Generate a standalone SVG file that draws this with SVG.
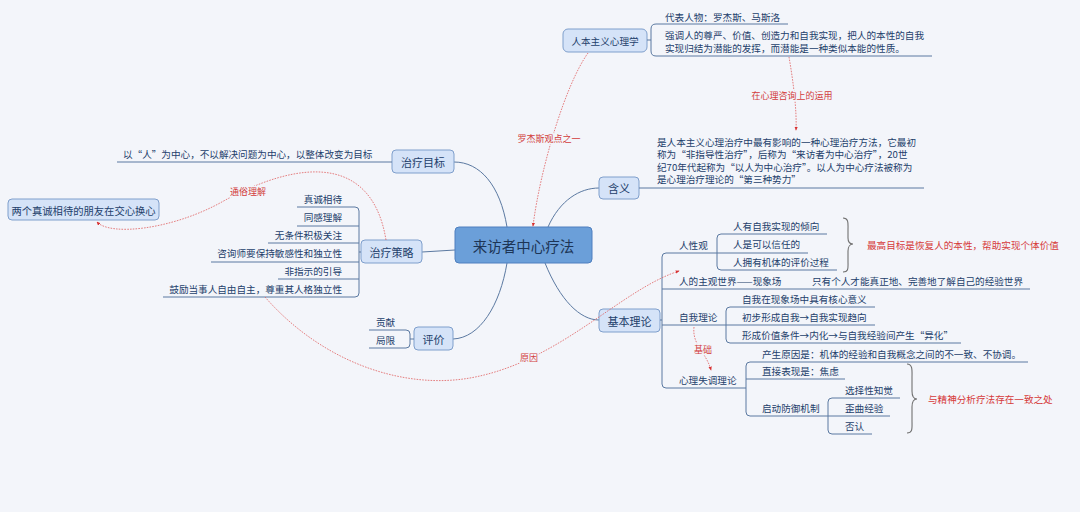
<svg xmlns="http://www.w3.org/2000/svg" width="1080" height="512" viewBox="0 0 1080 512">
<defs>
<style>
text{font-family:"Noto Sans CJK SC","Noto Sans",sans-serif;fill:#23406b;dominant-baseline:central}
.t{font-size:9.6px}
.m{font-size:11px;text-anchor:middle}
.node{fill:#d5e3f8;stroke:#7f9fcc;stroke-width:1}
.ln{fill:none;stroke:#5b79a1;stroke-width:1}
.br{fill:none;stroke:#707070;stroke-width:1.1}
.rel{fill:none;stroke:#e06060;stroke-width:0.8;stroke-dasharray:1.6 1.2}
.rl{font-size:9px;fill:#d23c3c;text-anchor:middle;stroke:#f3f5fa;stroke-width:3;paint-order:stroke}
.red{font-size:9.6px;fill:#d63a3a}
</style>
<marker id="ah" viewBox="0 0 6 6" refX="5" refY="3" markerWidth="5" markerHeight="5" orient="auto">
<path d="M0,0.5 L6,3 L0,5.5 Z" fill="#d83030"/>
</marker>
</defs>
<rect width="1080" height="512" fill="#f3f5fa"/>

<g id="connectors">
<path class="ln" d="M507,227 C500,185 480,162 454,162"/>
<path class="ln" d="M548,227 C560,200 580,188 599,188"/>
<path class="ln" d="M455,250 L422,252"/>
<path class="ln" d="M507,263 C500,305 480,338 453,339"/>
<path class="ln" d="M545,263 C560,300 580,320 599,320"/>
</g>

<g id="center">
<rect x="455" y="227" width="137" height="36" rx="4" fill="#6b9fd9" stroke="#4f7fbf"/>
<text x="523.5" y="245" style="font-size:14.5px;text-anchor:middle;fill:#1d3556">来访者中心疗法</text>
</g>

<g id="renben">
<rect class="node" x="563" y="29" width="84" height="23" rx="5"/>
<text x="605" y="40.5" style="font-size:9.6px;text-anchor:middle">人本主义心理学</text>
<path class="ln" d="M647,40 L651,40 M788,24 L656,24 Q651,24 651,29 L651,51 Q651,56 656,56 L932,56"/>
<text class="t" x="665" y="17">代表人物：罗杰斯、马斯洛</text>
<text class="t" x="665" y="35">强调人的尊严、价值、创造力和自我实现，把人的本性的自我</text>
<text class="t" x="665" y="48">实现归结为潜能的发挥，而潜能是一种类似本能的性质。</text>
</g>

<g id="hanyi">
<rect class="node" x="599" y="177" width="40" height="22" rx="4"/>
<text class="m" x="619" y="188">含义</text>
<path class="ln" d="M639,188 L924,188"/>
<text class="t" x="657" y="142">是人本主义心理治疗中最有影响的一种心理治疗方法，它最初</text>
<text class="t" x="657" y="154">称为“非指导性治疗”，后称为“来访者为中心治疗”，20世</text>
<text class="t" x="657" y="167">纪70年代起称为“以人为中心治疗”。以人为中心疗法被称为</text>
<text class="t" x="657" y="179">是心理治疗理论的“第三种势力”</text>
</g>

<g id="mubiao">
<rect class="node" x="392" y="150" width="62" height="23" rx="4"/>
<text class="m" x="423" y="161.5">治疗目标</text>
<path class="ln" d="M392,162 L117,162"/>
<text class="t" x="123" y="154">以“人”为中心，不以解决问题为中心，以整体改变为目标</text>
</g>

<g id="celue">
<rect class="node" x="361" y="240" width="61" height="23" rx="4"/>
<text class="m" x="391.5" y="251.5">治疗策略</text>
<path class="ln" d="M297,207 L355,207 Q359,207 359,211 L359,293 Q359,297 355,297 L163,297 M297,226 L359,226 M268,243 L359,243 M211,262 L359,262 M278,279 L359,279 M359,252 L361,252"/>
<g style="text-anchor:end">
<text class="t" x="342" y="199">真诚相待</text>
<text class="t" x="342" y="217">同感理解</text>
<text class="t" x="342" y="235">无条件积极关注</text>
<text class="t" x="342" y="253">咨询师要保持敏感性和独立性</text>
<text class="t" x="342" y="271">非指示的引导</text>
<text class="t" x="342" y="289">鼓励当事人自由自主，尊重其人格独立性</text>
</g>
</g>

<g id="friends">
<rect class="node" x="8" y="199" width="151" height="21" rx="4"/>
<text x="83.5" y="210" style="font-size:10.3px;text-anchor:middle">两个真诚相待的朋友在交心换心</text>
</g>

<g id="pingjia">
<rect class="node" x="414" y="327" width="39" height="23" rx="4"/>
<text class="m" x="433.5" y="338.5">评价</text>
<path class="ln" d="M369,330 L406,330 Q410,330 410,334 L410,344 Q410,348 406,348 L369,348 M410,339 L414,339"/>
<text class="t" x="376" y="322">贡献</text>
<text class="t" x="376" y="340">局限</text>
</g>

<g id="jiben">
<rect class="node" x="599" y="309" width="61" height="23" rx="4"/>
<text class="m" x="629.5" y="320.5">基本理论</text>
<path class="ln" d="M660,320 L662,320 M717,253 L666,253 Q662,253 662,257 L662,384 Q662,388 666,388 L746,388 M662,289 L1030,289 M662,325 L875,325"/>
<text class="t" x="679" y="245">人性观</text>
<path class="ln" d="M827,234 L721,234 Q717,234 717,238 L717,266 Q717,270 721,270 L837,270 M717,253 L808,253"/>
<text class="t" x="733" y="226">人有自我实现的倾向</text>
<text class="t" x="733" y="244">人是可以信任的</text>
<text class="t" x="733" y="262">人拥有机体的评价过程</text>
<path class="br" d="M843,218 C849,218 848,224 848,230 L848,238 C848,242 850,244 853,244 C850,244 848,247 848,251 L848,261 C848,268 849,272 843,272"/>
<text class="red" x="867" y="245">最高目标是恢复人的本性，帮助实现个体价值</text>
<text class="t" x="679" y="281">人的主观世界——现象场</text>
<text class="t" x="812" y="281">只有个人才能真正地、完善地了解自己的经验世界</text>
<text class="t" x="679" y="317">自我理论</text>
<path class="ln" d="M875,307 L730,307 Q726,307 726,311 L726,339 Q726,343 730,343 L961,343"/>
<text class="t" x="742" y="299">自我在现象场中具有核心意义</text>
<text class="t" x="742" y="317">初步形成自我→自我实现趋向</text>
<text class="t" x="742" y="335">形成价值条件→内化→与自我经验间产生“异化”</text>
<text class="t" x="679" y="380">心理失调理论</text>
<path class="ln" d="M1028,362 L750,362 Q746,362 746,366 L746,412 Q746,416 750,416 L890,416 M746,379 L845,379 M900,398 L832,398 Q828,398 828,402 L828,430 Q828,434 832,434 L872,434"/>
<text class="t" x="762" y="354">产生原因是：机体的经验和自我概念之间的不一致、不协调。</text>
<text class="t" x="762" y="371">直接表现是：焦虑</text>
<text class="t" x="762" y="408">启动防御机制</text>
<text class="t" x="845" y="390">选择性知觉</text>
<text class="t" x="845" y="408">歪曲经验</text>
<text class="t" x="845" y="426">否认</text>
<path class="br" d="M907,364 C913,364 912,371 912,378 L912,391 C912,396 914,399 917,399 C914,399 912,402 912,407 L912,420 C912,428 913,433 907,433"/>
<text class="red" x="928" y="399">与精神分析疗法存在一致之处</text>
</g>

<g id="relations">
<path class="rel" d="M588,53 C565,85 540,170 533,226" marker-end="url(#ah)"/>
<text class="rl" x="549" y="138">罗杰斯观点之一</text>
<path class="rel" d="M789,57 C793,80 797,110 796,130" marker-end="url(#ah)"/>
<text class="rl" x="792" y="95">在心理咨询上的运用</text>
<path class="rel" d="M386,240 C372,155 300,158 220,203 C170,230 110,236 97,222" marker-end="url(#ah)"/>
<text class="rl" x="248" y="191">通俗理解</text>
<path class="rel" d="M265,297 C320,360 400,390 470,378 C560,362 620,290 679,271" marker-end="url(#ah)"/>
<text class="rl" x="529" y="357">原因</text>
<path class="rel" d="M694,327 C692,345 706,352 711,370" marker-end="url(#ah)"/>
<text class="rl" x="703" y="349">基础</text>
</g>
</svg>
